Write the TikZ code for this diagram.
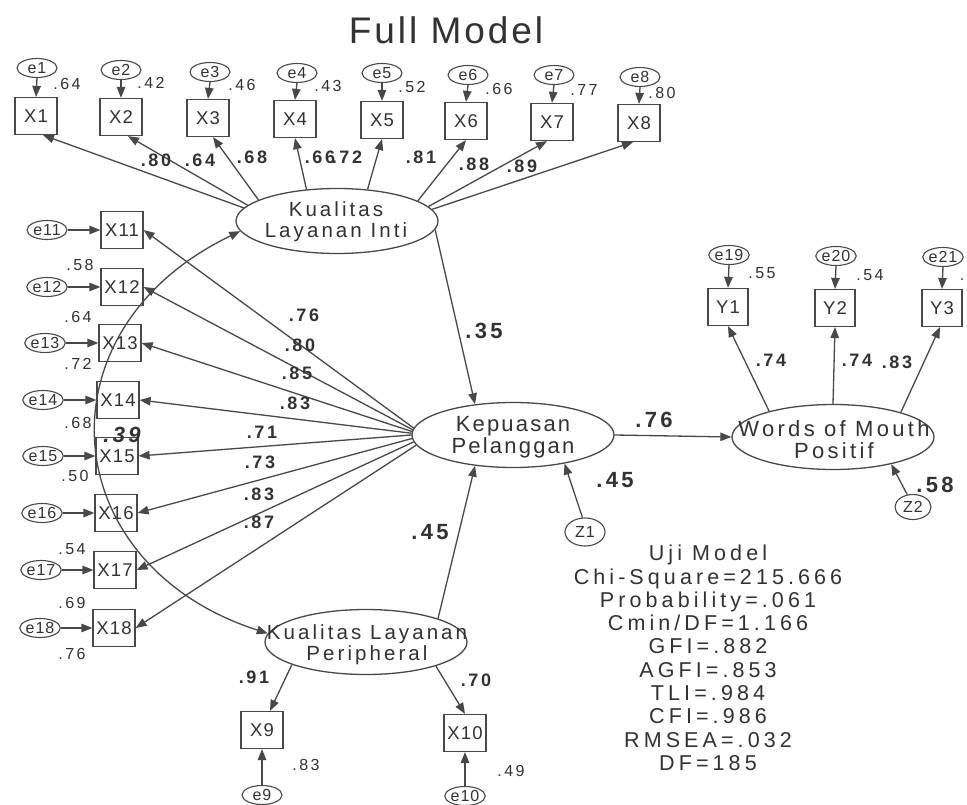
\documentclass[tikz,border=0pt]{standalone}
\usepackage{fontspec}
\setmainfont{Liberation Sans}
\newfontfamily\sfA[LetterSpace=15]{Liberation Sans}
\newfontfamily\sfB[LetterSpace=6]{Liberation Sans}
\newfontfamily\sfC[LetterSpace=10]{Liberation Sans}
\newfontfamily\sfS[LetterSpace=19]{Liberation Sans}
\newfontfamily\sfT[LetterSpace=8]{Liberation Sans}
\usetikzlibrary{arrows.meta,shapes.geometric}
\definecolor{ink}{RGB}{50,50,50}
\definecolor{lin}{RGB}{72,72,72}
\begin{document}
\begin{tikzpicture}[x=1pt,y=-1pt,
  obs/.style={draw=lin, line width=1.2pt, rectangle, minimum width=42pt, minimum height=37pt, inner sep=0pt, text=ink, font=\sfB\fontsize{18.5pt}{20pt}\selectfont},
  err/.style={draw=lin, line width=1.1pt, ellipse, minimum width=40pt, minimum height=19pt, inner sep=0pt, text=ink, font=\sfB\fontsize{16pt}{17pt}\selectfont},
  lat/.style={draw=lin, line width=1.3pt, ellipse, minimum width=202pt, minimum height=65pt, inner sep=0pt},
  lattext/.style={font=\sfA\fontsize{20.5pt}{21pt}\selectfont, align=center, inner sep=0pt, text=ink},
  lattextk/.style={font=\sfC\fontsize{22pt}{22.5pt}\selectfont, align=center, inner sep=0pt, text=ink},
  lattextw/.style={font=\sfA\fontsize{22pt}{22pt}\selectfont, align=center, inner sep=0pt, text=ink},
  var/.style={font=\sfA\fontsize{16pt}{18pt}\selectfont, inner sep=0pt, text=ink},
  load/.style={font=\sfA\bfseries\fontsize{18pt}{20pt}\selectfont, inner sep=0pt, text=ink},
  big/.style={font=\sfA\bfseries\fontsize{22pt}{24pt}\selectfont, inner sep=0pt, text=ink},
  pth/.style={draw=lin, line width=1.3pt, -{Triangle[length=11pt,width=8.5pt]}},
  corr/.style={draw=lin, line width=1.3pt, {Triangle[length=11pt,width=8.5pt]}-{Triangle[length=11pt,width=8.5pt]}}
]
\useasboundingbox[fill=white] (0,0) rectangle (967,805);

% title
\node[font=\sfT\fontsize{37pt}{40pt}\selectfont, text=ink, inner sep=0pt] (title) at (446,30) {Full Model};

% latent variables
\node[lat] (KLI) at (337,221) {};
\node[lattext] (KLItxt) at (336,222) {Kualitas\\Layanan Inti};
\node[lat] (Kep) at (513,435) {};
\node[lattextk] (Keptxt) at (513,437) {Kepuasan\\Pelanggan};
\node[lat] (WoM) at (833,437) {};
\node[lattextw] (WoMtxt) at (834,440) {Words of Mouth\\Positif};
\node[lat] (KLP) at (366,642) {};
\node[lattext] (KLPtxt) at (367,645) {Kualitas Layanan\\Peripheral};

% disturbances
\node[err, minimum width=40pt, minimum height=28pt] (Z1) at (585,532) {Z1};
\node[err, minimum width=36pt, minimum height=25pt] (Z2) at (913,507) {Z2};

% top indicators
\foreach \n/\x/\y/\ex/\ey in {1/36/116/37/68, 2/121/117/121/70, 3/208/118/210/72, 4/295/119/297/73, 5/382/120/382/73, 6/466/121/468/75, 7/552/122/554/75, 8/639/123/640/77}{
  \node[obs] (X\n) at (\x,\y) {X\n};
  \node[err] (e\n) at (\ex,\ey) {e\n};
  \draw[pth] (e\n.south) -- (X\n.north);
}
% left indicators
\foreach \n/\x/\y/\ex in {11/122/230/47, 12/122/287/47, 13/120/343/45, 14/118/400/43, 15/117/456/43, 16/116/513/42, 17/115/570/41, 18/114/628/40}{
  \node[obs] (X\n) at (\x,\y) {X\n};
  \node[err] (e\n) at (\ex,\y) {e\n};
  \draw[pth] (e\n.east) -- (X\n.west);
}
% Y indicators
\foreach \n/\x/\y/\en/\ey in {1/728/307/19/255, 2/835/308/20/256, 3/942/308/21/257}{
  \node[obs, minimum width=40pt] (Y\n) at (\x,\y) {Y\n};
  \node[err] (e\en) at (\x+1,\ey) {e\en};
  \draw[pth] (e\en.south) -- (Y\n.north);
}
% peripheral indicators
\node[obs] (X9) at (262,730) {X9};
\node[obs] (X10) at (465,733) {X10};
\node[err] (e9) at (262,795) {e9};
\node[err] (e10) at (465,796) {e10};
\draw[pth] (e9.north) -- (X9.south);
\draw[pth] (e10.north) -- (X10.south);

% loadings of KLI
\draw[pth] (KLI.172) -- ([xshift=7pt]X1.south);
\draw[pth] (KLI.170) -- ([xshift=7pt]X2.south);
\draw[pth] (KLI.165) -- ([xshift=5pt]X3.south);
\draw[pth] (KLI.134) -- (X4.south);
\draw[pth] (KLI.46) -- (X5.south);
\draw[pth] (KLI.14) -- (X6.south);
\draw[pth] (KLI.9) -- ([xshift=-5pt]X7.south);
\draw[pth] (KLI.7) -- ([xshift=-6pt]X8.south);

% loadings of Kepuasan
\draw[pth] (Kep.176) -- (X11.east);
\draw[pth] (Kep.177) -- (X12.east);
\draw[pth] (Kep.178) -- (X13.east);
\draw[pth] (Kep.179) -- (X14.east);
\draw[pth] (Kep.180) -- (X15.east);
\draw[pth] (Kep.182) -- (X16.east);
\draw[pth] (Kep.184) -- (X17.east);
\draw[pth] (Kep.186) -- (X18.east);

% loadings of WoM
\draw[pth] (WoM.158) -- (Y1.south);
\draw[pth] (WoM.north) -- (Y2.south);
\draw[pth] (WoM.20) -- ([xshift=-2pt]Y3.south);

% loadings of KLP
\draw[pth] (KLP.197) -- ([xshift=8pt]X9.north);
\draw[pth] (KLP.341) -- (X10.north);

% structural paths
\draw[pth] (KLI.355) -- (Kep.141);
\draw[pth] (KLP.18) -- (Kep.219);
\draw[pth] (Z1.100) -- (Kep.331);
\draw[pth] (Kep.east) -- (WoM.west);
\draw[pth] (Z2.115) -- (WoM.335);

% correlation
\draw[corr] (KLI.186) .. controls (35,330) and (55,565) .. (KLP.175);

% variances (top)
\node[var] (v1) at (67,84) {.64};
\node[var] (v2) at (151,83) {.42};
\node[var] (v3) at (242,85) {.46};
\node[var] (v4) at (328,86) {.43};
\node[var] (v5) at (412,87) {.52};
\node[var] (v6) at (499,89) {.66};
\node[var] (v7) at (584,90) {.77};
\node[var] (v8) at (662,93) {.80};
% variances (left)
\node[var] (v11) at (80,265) {.58};
\node[var] (v12) at (78,317) {.64};
\node[var] (v13) at (78,364) {.72};
\node[var] (v14) at (78,423) {.68};
\node[var] (v15) at (75,476) {.50};
\node[var] (v16) at (72,549) {.54};
\node[var] (v17) at (72,603) {.69};
\node[var] (v18) at (72,654) {.76};
% variances (right, bottom)
\node[var] (vy1) at (762,273) {.55};
\node[var] (vy2) at (870,275) {.54};
\node[var] (vy3) at (962,280) {.};
\node[var] (v9) at (306,765) {.83};
\node[var] (v10) at (511,771) {.49};

% loading values top
\node[load] (l1) at (156,160) {.80};
\node[load] (l2) at (200,160) {.64};
\node[load] (l3) at (252,157) {.68};
\node[load] (l4) at (320,157) {.66};
\node[load] (l5) at (347,157) {.72};
\node[load] (l6) at (421,157) {.81};
\node[load] (l7) at (474,164) {.88};
\node[load] (l8) at (522,166) {.89};
% loading values left
\node[load] (l11) at (304,315) {.76};
\node[load] (l12) at (300,345) {.80};
\node[load] (l13) at (297,373) {.85};
\node[load] (l14) at (295,403) {.83};
\node[load] (l15) at (262,432) {.71};
\node[load] (l16) at (260,462) {.73};
\node[load] (l17) at (259,494) {.83};
\node[load] (l18) at (259,522) {.87};
% loading values right, bottom
\node[load] (ly1) at (771,360) {.74};
\node[load] (ly2) at (857,360) {.74};
\node[load] (ly3) at (897,362) {.83};
\node[load] (l9) at (254,677) {.91};
\node[load] (l10) at (476,680) {.70};

% structural values
\node[big] (b1) at (484,331) {.35};
\node[big] (b2) at (430,532) {.45};
\node[big] (b3) at (615,480) {.45};
\node[big] (b4) at (654,420) {.76};
\node[big] (b5) at (935,485) {.58};
\node[big, font=\sfA\bfseries\itshape\fontsize{22pt}{24pt}\selectfont] (b6) at (122,435) {.39};

% fit statistics
\node[font=\sfS\fontsize{21.5pt}{23.3pt}\selectfont, align=center, inner sep=0pt, text=ink, anchor=north] (stats) at (708,545)
 {Uji Model\\Chi-Square=215.666\\Probability=.061\\Cmin/DF=1.166\\GFI=.882\\AGFI=.853\\TLI=.984\\CFI=.986\\RMSEA=.032\\DF=185};
\end{tikzpicture}
\end{document}
